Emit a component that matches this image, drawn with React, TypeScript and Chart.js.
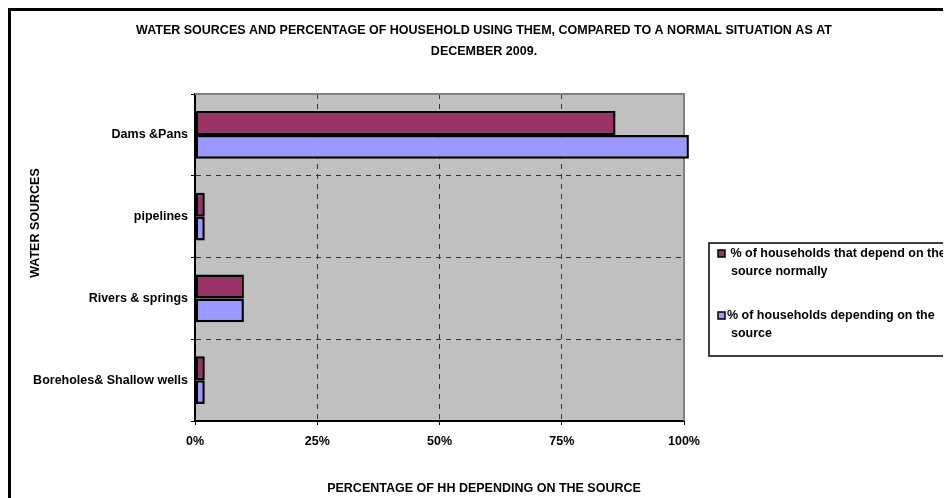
import React, { useEffect, useRef } from "react";
import { Chart, registerables } from "chart.js";

Chart.register(...registerables);

const categories = ["Dams &Pans", "pipelines", "Rivers & springs", "Boreholes& Shallow wells"];
const normalValues = [86, 2, 10, 2];
const currentValues = [101, 2, 10, 2];
const seriesLabels = [" % of households that depend on the source normally", "% of households depending on the source"];
const seriesColors = ["#993366", "#9999FF"];
const xTickLabels = ["0%", "25%", "50%", "75%", "100%"];
const titleLines = [
  "WATER SOURCES AND PERCENTAGE OF HOUSEHOLD USING THEM, COMPARED TO A NORMAL SITUATION AS AT",
  "DECEMBER 2009.",
];
const xTitle = "PERCENTAGE OF HH DEPENDING ON THE SOURCE";
const yTitle = "WATER SOURCES";

const FONT = "'Liberation Sans', Arial, sans-serif";
const FS = 12.5;

const decorPlugin = {
  id: "decor",
  beforeDraw(chart: any) {
    const { ctx, chartArea: a } = chart;
    ctx.save();
    ctx.fillStyle = "#C0C0C0";
    ctx.fillRect(a.left, a.top, a.right - a.left, a.bottom - a.top);
    ctx.restore();
  },
  beforeDatasetsDraw(chart: any) {
    const { ctx, chartArea: a } = chart;
    ctx.save();
    ctx.strokeStyle = "#808080";
    ctx.lineWidth = 2;
    ctx.beginPath();
    ctx.moveTo(a.left, a.top);
    ctx.lineTo(a.right, a.top);
    ctx.lineTo(a.right, a.bottom);
    ctx.stroke();
    ctx.restore();
  },
  afterDraw(chart: any) {
    const { ctx } = chart;
    ctx.save();
    ctx.fillStyle = "#000";
    ctx.font = `bold ${FS}px ${FONT}`;
    ctx.textAlign = "center";
    ctx.textBaseline = "middle";
    ctx.fillText(titleLines[0], 473, 20);
    ctx.fillText(titleLines[1], 473, 41);
    ctx.fillText(xTitle, 473, 478);
    ctx.save();
    ctx.translate(25, 212);
    ctx.rotate(-Math.PI / 2);
    ctx.fillText(yTitle, 0, 0);
    ctx.restore();

    // legend
    ctx.strokeStyle = "#000";
    ctx.lineWidth = 1.5;
    ctx.strokeRect(698, 232, 400, 113);
    ctx.textAlign = "left";
    const entries = [
      { y: 243, x: 716 },
      { y: 305, x: 716 },
    ];
    chart.data.datasets.forEach((ds: any, i: number) => {
      const e = entries[i];
      ctx.fillStyle = ds.backgroundColor;
      ctx.fillRect(707, e.y - 4, 7, 7);
      ctx.lineWidth = 1.5;
      ctx.strokeRect(707, e.y - 4, 7, 7);
      ctx.fillStyle = "#000";
      const label = String(ds.label);
      const lead = label.length - label.trimStart().length;
      const words = label.trimStart().split(" ");
      const lines: string[] = [];
      let cur = " ".repeat(lead);
      let first = true;
      for (const w of words) {
        const test = first ? cur + w : cur + " " + w;
        if (!first && ctx.measureText(test).width > 232) {
          lines.push(cur);
          cur = w;
        } else {
          cur = test;
        }
        first = false;
      }
      if (cur) lines.push(cur);
      lines.forEach((ln, j) => {
        ctx.fillText(ln, j === 0 ? e.x : 720, e.y + j * 18);
      });
    });
    ctx.restore();
  },
};

export default function App() {
  const ref = useRef<HTMLCanvasElement>(null);
  useEffect(() => {
    if (!ref.current) return;
    const chart = new Chart(ref.current, {
      type: "bar",
      data: {
        labels: categories,
        datasets: [
          {
            label: seriesLabels[0],
            data: normalValues,
            backgroundColor: seriesColors[0],
            borderColor: "#000",
            borderWidth: 2.5,
            borderSkipped: false,
            clip: false,
          },
          {
            label: seriesLabels[1],
            data: currentValues,
            backgroundColor: seriesColors[1],
            borderColor: "#000",
            borderWidth: 2.5,
            borderSkipped: false,
            clip: false,
          },
        ] as any,
      },
      plugins: [decorPlugin],
      options: {
        indexAxis: "y",
        animation: false,
        responsive: false,
        devicePixelRatio: 1,
        categoryPercentage: 0.585,
        barPercentage: 1,
        layout: { padding: { left: 0, top: 83, right: 287, bottom: 0 } },
        plugins: {
          legend: { display: false },
          title: { display: false },
          tooltip: { enabled: false },
        },
        scales: {
          x: {
            min: 0,
            max: 100,
            afterFit(scale: any) {
              scale.height = 80;
            },
            ticks: {
              stepSize: 25,
              padding: 9,
              color: "#000",
              font: { family: FONT, size: FS, weight: "bold" },
              callback: (v: any) => xTickLabels[Math.round(Number(v) / 25)],
            },
            grid: {
              color: "#333",
              lineWidth: 1,
              tickLength: 4,
              tickColor: "#000",
              tickWidth: 1,
            },
            border: { display: true, color: "#000", width: 2, dash: [5, 5] },
          },
          y: {
            afterFit(scale: any) {
              scale.width = 184;
            },
            ticks: {
              padding: 3,
              color: "#000",
              font: { family: FONT, size: FS, weight: "bold" },
            },
            grid: {
              color: "#333",
              lineWidth: 1,
              tickLength: 4,
              tickColor: "#000",
              tickWidth: 1,
              offset: true,
            },
            border: { display: true, color: "#000", width: 2, dash: [5, 5] },
          },
        },
      } as any,
    });
    return () => chart.destroy();
  }, []);

  return (
    <div style={{ width: 943, height: 490, overflow: "hidden" }}>
      <div
        style={{
          borderLeft: "3px solid #000",
          borderTop: "3px solid #000",
          width: 1000,
          height: 520,
          background: "#fff",
        }}
      >
        <canvas ref={ref} width={960} height={490} style={{ display: "block", width: 960, height: 490 }} />
      </div>
    </div>
  );
}
